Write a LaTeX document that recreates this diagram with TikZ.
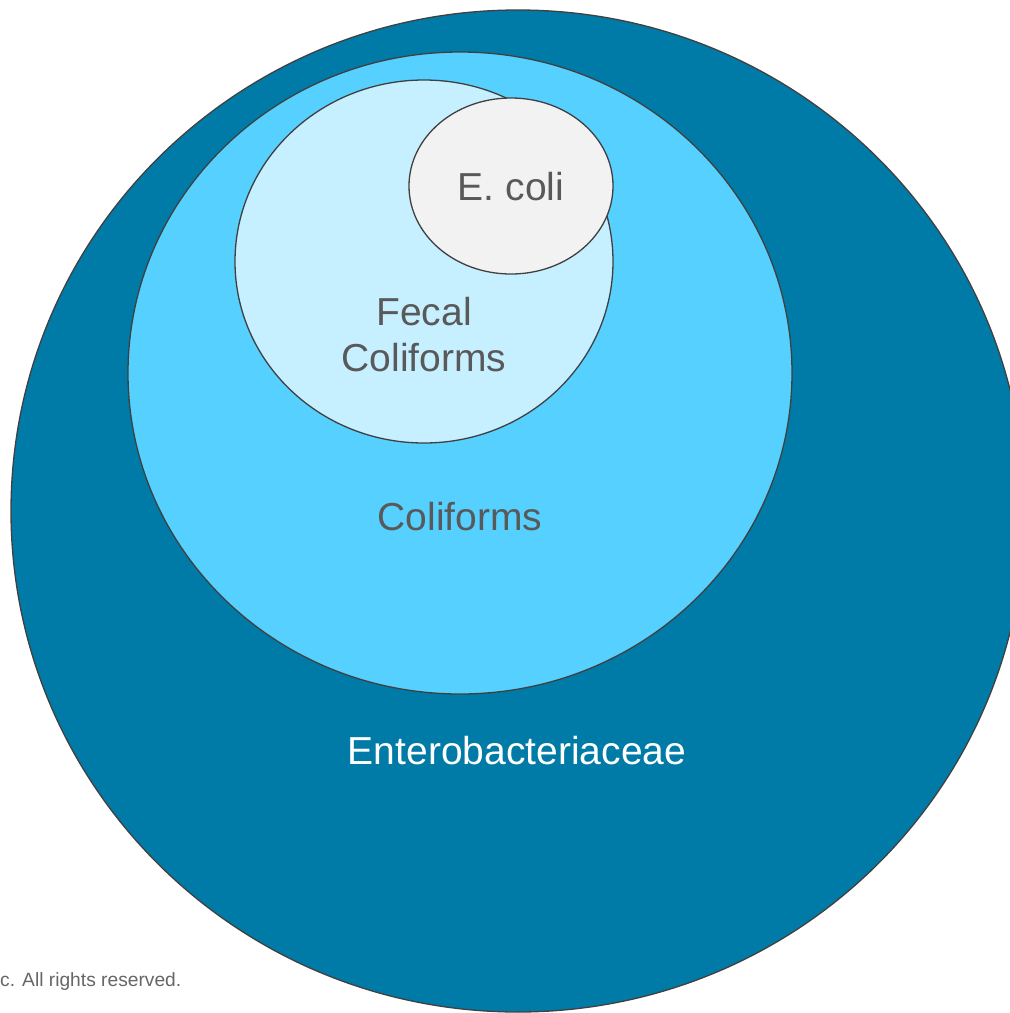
\documentclass[tikz,border=0pt]{standalone}
\usepackage{fontspec}
\setmainfont{Liberation Sans}
\definecolor{outerblue}{HTML}{007BA7}
\definecolor{coliblue}{HTML}{55D0FF}
\definecolor{fecalblue}{HTML}{C6EFFF}
\definecolor{ecoligray}{HTML}{F2F2F2}
\definecolor{edgegray}{HTML}{404040}
\definecolor{textgray}{HTML}{595959}
\definecolor{notegray}{HTML}{666666}
\begin{document}
\begin{tikzpicture}[x=1pt,y=-1pt,
  ring/.style={draw=edgegray,line width=1.3pt},
  lbl/.style={font=\fontsize{39}{46}\selectfont,text=textgray,align=center,inner sep=0pt},
  note/.style={font=\fontsize{19.2}{22}\selectfont,text=notegray,inner sep=0pt}]
\useasboundingbox (0,0) rectangle (1010,1013);
\clip (0,0) rectangle (1010,1013);
\fill[white] (0,0) rectangle (1010,1013);
\draw[ring,fill=outerblue] (518,511) ellipse [x radius=507,y radius=501];
\draw[ring,fill=coliblue] (460,373) ellipse [x radius=332,y radius=321];
\draw[ring,fill=fecalblue] (424,261.5) ellipse [x radius=189,y radius=181.5];
\draw[ring,fill=ecoligray] (511,186) ellipse [x radius=102,y radius=88];
\node[lbl] (ecoli) at (511,187) {E. coli};
\node[lbl] (fecal) at (424,335) {Fecal\\Coliforms};
\node[lbl] (coli) at (460,517) {Coliforms};
\node[lbl,text=white] (entero) at (517,751) {Enterobacteriaceae};
\node[note,anchor=west] (rights) at (0,982) {c. All rights reserved.};
\end{tikzpicture}
\end{document}
